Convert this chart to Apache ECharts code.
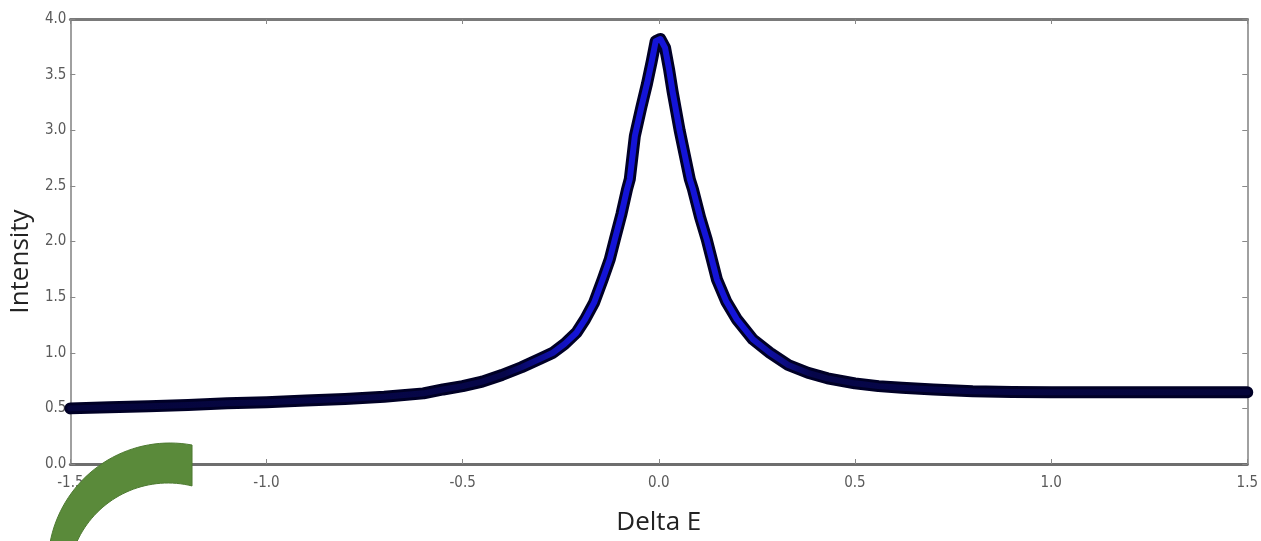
<!DOCTYPE html>
<html>
<head>
<meta charset="utf-8">
<title>Intensity vs Delta E</title>
<script src="https://cdn.jsdelivr.net/npm/echarts@6/dist/echarts.min.js"></script>
<style>
  html, body { margin: 0; padding: 0; background: #ffffff; }
  #chart { width: 1261px; height: 541px; }
</style>
</head>
<body>
<div id="chart"></div>
<script>
// Measured spectrum: energy transfer and intensity
const deltaE = [
  -1.5, -1.4, -1.3, -1.2, -1.1, -1.0, -0.9, -0.8, -0.7, -0.6, -0.55, -0.5,
  -0.45, -0.4, -0.35, -0.3, -0.27, -0.24, -0.21, -0.188, -0.165, -0.143,
  -0.125, -0.112, -0.095, -0.081, -0.074, -0.061, -0.045, -0.03, -0.018,
  -0.008, 0.004, 0.016, 0.026, 0.035, 0.053, 0.066, 0.079, 0.087, 0.105,
  0.122, 0.148, 0.172, 0.199, 0.24, 0.283, 0.33, 0.38, 0.43, 0.5, 0.56,
  0.62, 0.7, 0.8, 0.9, 1.0, 1.1, 1.2, 1.3, 1.4, 1.5
];
const intensity = [
  0.50, 0.51, 0.52, 0.53, 0.545, 0.555, 0.57, 0.585, 0.605, 0.635, 0.67, 0.70,
  0.74, 0.80, 0.87, 0.95, 1.0, 1.08, 1.18, 1.30, 1.45, 1.66,
  1.84, 2.02, 2.25, 2.47, 2.56, 2.95, 3.2, 3.42, 3.62,
  3.8, 3.82, 3.74, 3.55, 3.35, 3.0, 2.78, 2.56, 2.47, 2.22,
  2.02, 1.66, 1.46, 1.30, 1.12, 1.0, 0.89, 0.82, 0.77, 0.725, 0.70,
  0.685, 0.67, 0.655, 0.648, 0.645, 0.645, 0.645, 0.645, 0.645, 0.645
];
const xTickStep = 0.5;
const yTickStep = 0.5;

const points = deltaE.map((x, i) => [x, intensity[i]]);

const tickFont = {
  fontFamily: "'DejaVu Sans Condensed', 'Liberation Sans Narrow', 'DejaVu Sans', sans-serif",
  fontSize: 15,
  color: '#5a5a5a'
};
const nameFont = {
  fontFamily: "'Open Sans', sans-serif",
  fontSize: 26,
  color: '#222222'
};

// Outline of the green corner swoosh: outer arc down, inner arc back up
function arcPoints(cx, cy, r, a0, a1, n) {
  const pts = [];
  for (let i = 0; i <= n; i++) {
    const a = a0 + (a1 - a0) * i / n;
    pts.push([cx + r * Math.cos(a), cy + r * Math.sin(a)]);
  }
  return pts;
}
const deg = Math.PI / 180;
const swoosh = arcPoints(170, 565, 122, -79.6 * deg, -182.4 * deg, 40)
  .concat(arcPoints(168, 583, 100, -166.9 * deg, -76.1 * deg, 40));

const chart = echarts.init(document.getElementById('chart'), null, { renderer: 'canvas' });

const frameLine = (w, c) => ({ show: true, onZero: false, lineStyle: { color: c, width: w } });
const innerTicks = { show: true, inside: true, length: 5, lineStyle: { color: '#888888', width: 1 } };

// band colour: navy in the tails, bright blue around the peak
const bandColor = {
  type: 'linear', x: 0, y: 0, x2: 1, y2: 0,
  colorStops: [
    { offset: 0.00, color: '#05053a' },
    { offset: 0.37, color: '#06064a' },
    { offset: 0.43, color: '#1414d8' },
    { offset: 0.57, color: '#1414d8' },
    { offset: 0.63, color: '#06064a' },
    { offset: 1.00, color: '#05053a' }
  ]
};

chart.setOption({
  animation: false,
  backgroundColor: '#ffffff',
  grid: { left: 70, right: 13, top: 19, bottom: 76 },
  xAxis: [
    {
      type: 'value', position: 'bottom',
      min: -1.5, max: 1.5, interval: xTickStep,
      name: 'Delta E', nameLocation: 'middle', nameGap: 46,
      nameTextStyle: nameFont,
      axisLine: frameLine(3, '#6e6e6e'),
      axisTick: innerTicks,
      splitLine: { show: false },
      axisLabel: Object.assign({ margin: 12, formatter: v => v.toFixed(1) }, tickFont)
    },
    {
      type: 'value', position: 'top',
      min: -1.5, max: 1.5, interval: xTickStep,
      axisLine: frameLine(3, '#7a7a7a'),
      axisTick: innerTicks,
      axisLabel: { show: false },
      splitLine: { show: false }
    }
  ],
  yAxis: [
    {
      type: 'value', position: 'left',
      min: 0, max: 4.0, interval: yTickStep,
      name: 'Intensity', nameLocation: 'middle', nameGap: 32, nameRotate: 90,
      nameTextStyle: Object.assign({ padding: [0, 40, 0, 0] }, nameFont),
      axisLine: frameLine(2, '#a0a0a0'),
      axisTick: innerTicks,
      splitLine: { show: false },
      axisLabel: Object.assign({ margin: 4, formatter: v => v.toFixed(1) }, tickFont)
    },
    {
      type: 'value', position: 'right',
      min: 0, max: 4.0, interval: yTickStep,
      axisLine: frameLine(2, '#a0a0a0'),
      axisTick: innerTicks,
      axisLabel: { show: false },
      splitLine: { show: false }
    }
  ],
  series: [
    {
      type: 'line', data: points, showSymbol: false, clip: true,
      lineStyle: { color: '#000026', width: 12, cap: 'round', join: 'round' },
      z: 2
    },
    {
      type: 'line', data: points, showSymbol: false, clip: true,
      lineStyle: { color: bandColor, width: 6, cap: 'round', join: 'round' },
      z: 3
    }
  ],
  graphic: [
    {
      type: 'polygon',
      z: 100,
      shape: { points: swoosh },
      style: { fill: '#5a8a3a', stroke: '#4d7a31', lineWidth: 1 }
    }
  ]
});
</script>
</body>
</html>
